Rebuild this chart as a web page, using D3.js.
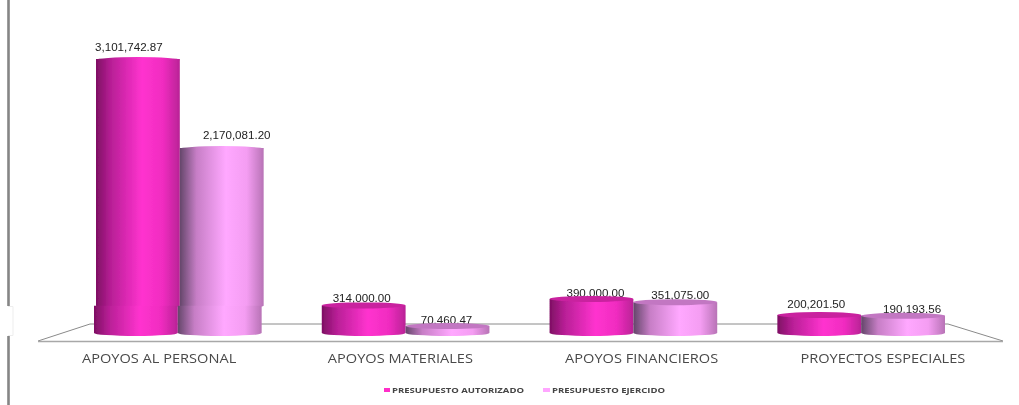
<!DOCTYPE html>
<html><head><meta charset="utf-8">
<script src="https://cdn.jsdelivr.net/npm/d3@7"></script>
<style>html,body{margin:0;padding:0;background:#fff;overflow:hidden}svg{display:block}</style>
</head><body><svg id="c" width="1019" height="405"></svg>
<script>
const categories = ["APOYOS AL PERSONAL","APOYOS MATERIALES","APOYOS FINANCIEROS","PROYECTOS ESPECIALES"];
const seriesNames = ["PRESUPUESTO AUTORIZADO","PRESUPUESTO EJERCIDO"];
const autorizado = [3101742.87,314000.00,390000.00,200201.50];
const ejercido = [2170081.20,70460.47,351075.00,190193.56];
const seriesValues = [autorizado,ejercido];
const legendColors = ["#ff2fc8","#ffa6ff"];

const svg = d3.select("#c");
const defs = svg.append("defs");
const soft = defs.append("filter").attr("id","soft").attr("x","-5%").attr("y","-5%").attr("width","110%").attr("height","110%");
soft.append("feGaussianBlur").attr("stdDeviation",0.5);
const softer = defs.append("filter").attr("id","softer").attr("x","-5%").attr("y","-30%").attr("width","110%").attr("height","160%");
softer.append("feGaussianBlur").attr("stdDeviation",0.6);

const gradStops = [
 [[0,"#7e0f63"],[0.18,"#b81f96"],[0.55,"#ff33cf"],[0.8,"#f02cc0"],[1,"#b92396"]],
 [[0,"#64466a"],[0.2,"#c77ec6"],[0.55,"#ffa8ff"],[0.8,"#f49df2"],[1,"#b873b6"]]
];
gradStops.forEach((st,i)=>{
  const g = defs.append("linearGradient").attr("id","g"+i).attr("x1",0).attr("x2",1).attr("y1",0).attr("y2",0);
  st.forEach(s=>g.append("stop").attr("offset",s[0]).attr("stop-color",s[1]));
});
const capColors = ["#c9209f","#c277c2"];

// Scales
const yScale = d3.scaleLinear().domain([0,2170081.2,3101742.87]).range([332,148,59]);
const groupX = d3.scaleBand().domain(categories).range([94,945]).paddingInner(0.264).paddingOuter(0);
const barX = d3.scaleBand().domain([0,1]).range([0,groupX.bandwidth()]);
const floorX = d3.scaleBand().domain(categories).range([38.5,1003.5]);

// Axis frame
const frame = svg.append("g").attr("filter","url(#soft)");
frame.append("line").attr("x1",8.5).attr("x2",8.5).attr("y1",0).attr("y2",306).attr("stroke","#858585").attr("stroke-width",2.6);
frame.append("line").attr("x1",8.5).attr("x2",8.5).attr("y1",336).attr("y2",405).attr("stroke","#858585").attr("stroke-width",2.6);
frame.append("path").attr("d","M8,306.5H13V335.5H8").attr("fill","none").attr("stroke","#ededed").attr("stroke-width",1);
// Floor
frame.append("path").attr("d","M90,324H948L1003,341").attr("fill","none").attr("stroke","#8a8a8a").attr("stroke-width",1);
frame.append("path").attr("d","M38,341L90,324").attr("fill","none").attr("stroke","#8a8a8a").attr("stroke-width",1);
frame.append("line").attr("x1",38).attr("x2",1003).attr("y1",341.5).attr("y2",341.5).attr("stroke","#a8a8a8").attr("stroke-width",1.6);

// Value labels (drawn first: the column tops clip them as in the picture)
const fmt = d3.format(",.2f");
const labelNudgeX = [[-7,-2,4,-3],[17,-1,5,9]];
const labelBaseY = [[51,302,297,308],[139,324,299,313]];
const labels = svg.append("g").attr("filter","url(#soft)").attr("font-family","Liberation Sans, Arial, sans-serif").attr("font-size",11.6).attr("fill","#222").attr("text-anchor","middle");
seriesValues.forEach((vals,i)=>vals.forEach((v,k)=>{
  const c=categories[k];
  labels.append("text")
   .attr("x",groupX(c)+barX(i)+barX.bandwidth()/2+labelNudgeX[i][k])
   .attr("y",labelBaseY[i][k])
   .text(fmt(v));
}));

// Cylinders
const stepValue = 310000;      // height where the tall columns shift in the picture
const tallOver = 1000000;      // only the tall columns show that shift
function cylinder(g,x0,x1,yTop,yBot,ry,i,withCap){
  const rx=(x1-x0)/2,cx=(x0+x1)/2;
  g.append("path")
   .attr("d",`M${x0},${yTop}V${yBot-2}A${rx},${ry} 0 0 0 ${x1},${yBot-2}V${yTop}Z`)
   .attr("fill",`url(#g${i})`);
  if(withCap) g.append("ellipse").attr("cx",cx).attr("cy",yTop).attr("rx",rx).attr("ry",ry).attr("fill",capColors[i]);
}
const bars = svg.append("g").attr("filter","url(#soft)");
const base = yScale(0)+3;
seriesValues.forEach((vals,i)=>{
  vals.forEach((v,k)=>{
    const c=categories[k];
    const x0=groupX(c)+barX(i);
    const x1=x0+barX.bandwidth();
    const y=yScale(v);
    if(v>tallOver){
      const ys=yScale(stepValue);
      cylinder(bars,x0+2,x1+2,y,ys+2,3,i,false);
      bars.append("ellipse").attr("cx",(x0+x1)/2+2).attr("cy",y+1).attr("rx",(x1-x0)/2).attr("ry",3)
        .attr("fill",`url(#g${i})`);
      cylinder(bars,x0,x1,ys,base,3,i,false);
    } else {
      cylinder(bars,x0,x1,y,base,3,i,true);
    }
  });
});

// Category axis
const axis = svg.append("g").attr("transform","translate(0,341)").attr("filter","url(#soft)")
  .call(d3.axisBottom(floorX).tickSize(0).tickPadding(13));
axis.select(".domain").remove();
axis.selectAll("text").attr("font-family","Open Sans, sans-serif").attr("font-size",12.6).attr("font-weight",500).attr("fill","#4a4a4a").attr("dy","0.71em")
  .each(function(){ d3.select(this).attr("textLength",this.getComputedTextLength()*1.158).attr("lengthAdjust","spacingAndGlyphs"); });

// Legend
const legend = svg.append("g").attr("filter","url(#softer)");
const legendX=[[384,392,132],[543,552,113]];
seriesNames.forEach((n,i)=>{
  legend.append("rect").attr("x",legendX[i][0]).attr("y",388).attr("width",legendX[i][1]-legendX[i][0]-2).attr("height",4).attr("fill",legendColors[i]);
  legend.append("text").attr("x",legendX[i][1]).attr("y",393).attr("font-family","Open Sans, sans-serif").attr("font-weight",700)
    .attr("font-size",7).attr("fill","#444").attr("textLength",legendX[i][2]).attr("lengthAdjust","spacingAndGlyphs").text(n);
});
</script></body></html>
